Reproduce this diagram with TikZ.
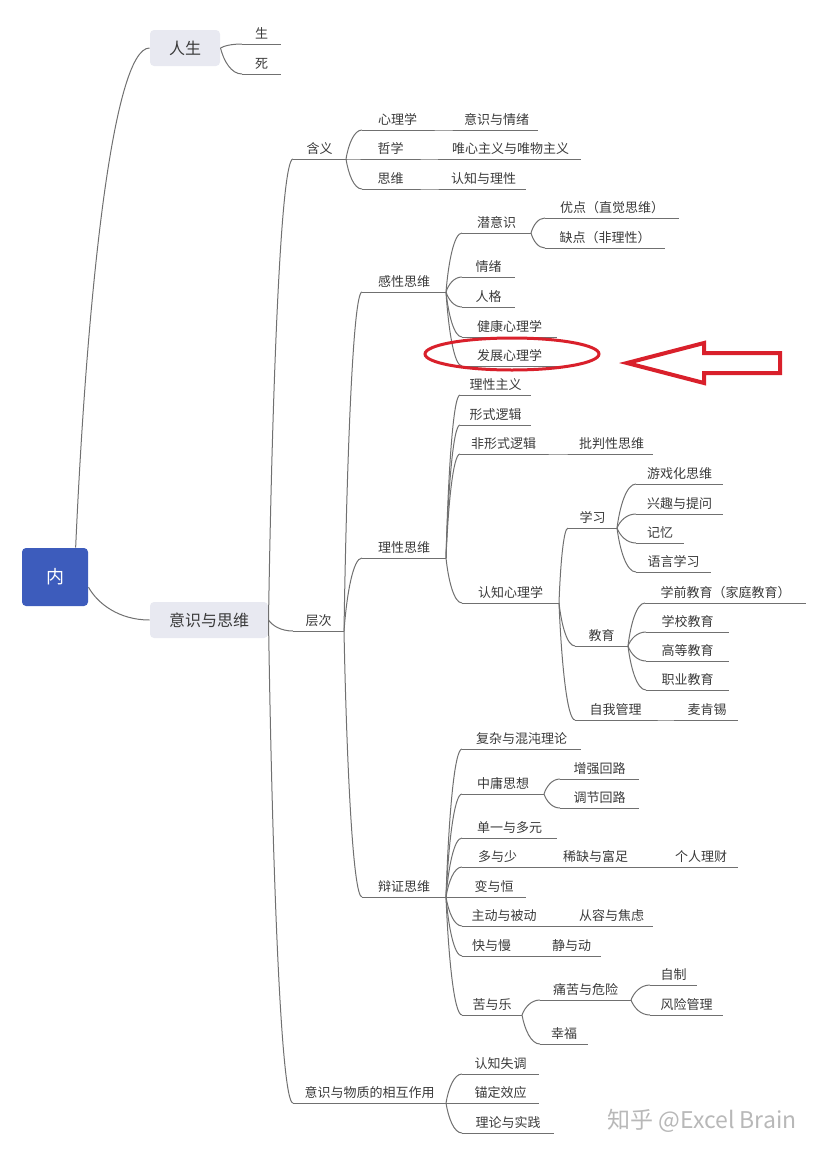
\documentclass[tikz,border=0pt]{standalone}
\usepackage{fontspec}
\setmainfont{Noto Sans CJK SC}
\usetikzlibrary{calc}
\definecolor{cline}{HTML}{707070}
\definecolor{ctext}{HTML}{3A3A3A}
\definecolor{cblue}{HTML}{3D5CBC}
\definecolor{cpale}{HTML}{E8E9F1}
\definecolor{cred}{HTML}{D9202B}
\definecolor{cmark}{HTML}{B8B8B8}
\tikzset{
  every picture/.style={line width=1pt},
  rootbox/.style={fill=cblue, text=white, rounded corners=4pt, minimum width=66pt, minimum height=58pt, font=\fontsize{18}{20}\selectfont},
  mainbox/.style={fill=cpale, text=ctext, rounded corners=4pt, minimum height=36pt, font=\fontsize{16}{18}\selectfont},
  topic/.style={anchor=south west, minimum width=#1pt, inner xsep=0pt, inner ysep=3pt, text=ctext,
    font=\fontsize{13}{15}\selectfont, text height=10pt, text depth=2pt,
    append after command={\pgfextra{\draw[cline] (\tikzlastnode.south west) -- (\tikzlastnode.south east);}}},
  sub/.style={font=\fontsize{13}{15}\selectfont},
  link/.style={draw=cline, to path={let \p1=(\tikztostart), \p2=(\tikztotarget) in
    .. controls ({\x1+0.15*(\x2-\x1)}, {0.5*(\y1+\y2)}) and ({0.5*(\x1+\x2)}, \y2) .. (\tikztotarget)}},
  redmark/.style={draw=cred, line width=3pt},
  watermark/.style={text=cmark, font=\fontsize{23}{25}\selectfont},
}
\begin{document}
\begin{tikzpicture}[x=1pt, y=-1pt]
  \useasboundingbox (0,0) rectangle (825,1154);
  % boxes
  \node[rootbox] (root) at (55,577) {内};
  \node[mainbox, minimum width=70pt] (life) at (185,48) {人生};
  \node[mainbox, minimum width=118pt] (mind) at (209,620) {意识与思维};
  % second level
  \node[topic=52, sub] (meaning) at (293,159) {含义};
  \node[topic=50, sub] (level) at (293,631) {层次};
  \node[topic=152, sub] (inter) at (293,1103) {意识与物质的相互作用};
  % all other topics: name/left/line y/length/text
  \foreach \nm/\px/\py/\len/\lbl in {
      birth/242/44/38/生, death/242/74/38/死,
      psy/362/130/70/心理学, psyA/455/130/82/意识与情绪,
      phil/362/159/56/哲学, philA/440/159/140/唯心主义与唯物主义,
      thk/362/189/56/思维, thkA/441/189/84/认知与理性,
      sens/362/292/83/感性思维, rat/362/558/83/理性思维, dial/362/897/83/辩证思维,
      subc/462/233/68/潜意识, pro/545/218/133/优点（直觉思维）, con/545/248/119/缺点（非理性）,
      emo/462/277/52/情绪, pers/462/307/52/人格,
      hlth/462/337/94/健康心理学, dev/462/366/94/发展心理学,
      ratism/460/395/70/理性主义, formal/460/425/70/形式逻辑,
      informal/460/454/86/非形式逻辑, critical/570/454/82/批判性思维,
      cog/462/603/96/认知心理学,
      learn/568/528/48/学习, game/636/484/86/游戏化思维, interest/636/514/86/兴趣与提问,
      memory/636/543/47/记忆, lang/636/572/74/语言学习,
      edu/575/646/52/教育, pre/645/603/160/学前教育（家庭教育）,
      school/646/632/82/学校教育, higher/646/661/82/高等教育, voc/646/690/82/职业教育,
      selfm/575/720/80/自我管理, mck/676/720/61/麦肯锡,
      chaos/462/749/118/复杂与混沌理论,
      mean/462/794/81/中庸思想, reinf/560/779/78/增强回路, balance/560/808/78/调节回路,
      single/462/838/94/单一与多元,
      more/462/867/70/多与少, scarce/556/867/78/稀缺与富足, finance/664/867/73/个人理财,
      change/462/897/63/变与恒,
      active/462/926/83/主动与被动, calm/570/926/82/从容与焦虑,
      speed/462/956/58/快与慢, still/542/956/58/静与动,
      joy/462/1015/59/苦与乐, pain/540/1000/90/痛苦与危险,
      selfc/650/985/46/自制, risk/650/1015/72/风险管理, happy/540/1044/47/幸福,
      dissonance/462/1074/76/认知失调, anch/462/1103/76/锚定效应, theory/462/1133/91/理论与实践}
    \node[topic=\len] (\nm) at (\px,\py) {\lbl};
  % connectors
  \draw[link] (root.55) to (life.west);
  \draw[link] (root.-17) to (mind.west);
  \foreach \c in {birth,death} \draw[link] (life.east) to (\c.south west);
  \foreach \c in {meaning,level,inter} \draw[link] (mind.east) to (\c.south west);
  \foreach \p/\c in {meaning/psy, meaning/phil, meaning/thk, psy/psyA, phil/philA, thk/thkA,
      level/sens, level/rat, level/dial,
      sens/subc, sens/emo, sens/pers, sens/hlth, sens/dev, subc/pro, subc/con,
      rat/ratism, rat/formal, rat/informal, rat/cog, informal/critical,
      cog/learn, cog/edu, cog/selfm, selfm/mck,
      learn/game, learn/interest, learn/memory, learn/lang,
      edu/pre, edu/school, edu/higher, edu/voc,
      dial/chaos, dial/mean, dial/single, dial/more, dial/change, dial/active, dial/speed, dial/joy,
      mean/reinf, mean/balance, more/scarce, scarce/finance, active/calm, speed/still,
      joy/pain, joy/happy, pain/selfc, pain/risk,
      inter/dissonance, inter/anch, inter/theory}
    \draw[link] (\p.south east) to (\c.south west);
  % red marks
  \draw[redmark] (512,354) ellipse [x radius=87pt, y radius=16pt];
  \draw[redmark, line width=4pt, line join=miter] (627,363) -- (704,343) -- (704,353) -- (780,353)
    -- (780,373) -- (704,373) -- (704,383) -- cycle;
  \node[watermark] (wm) at (702,1121) {知乎 @Excel Brain};
\end{tikzpicture}
\end{document}
